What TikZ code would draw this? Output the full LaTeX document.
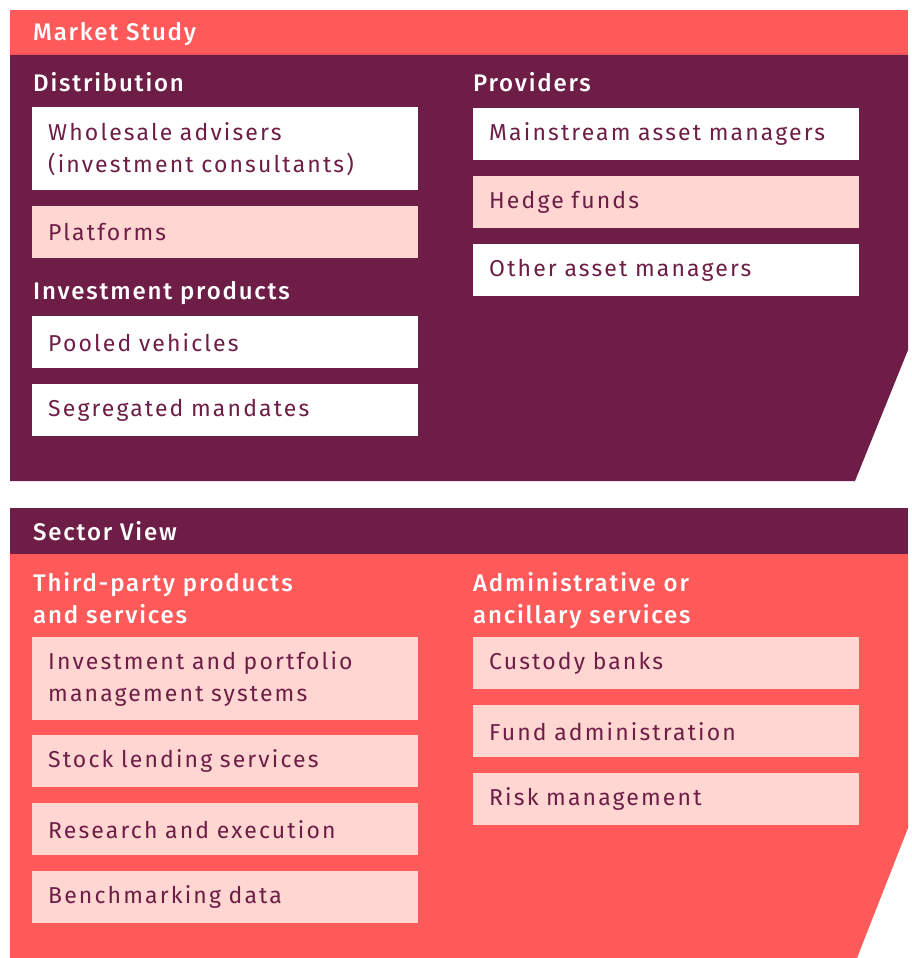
\documentclass[tikz,border=0pt]{standalone}
\usepackage{fontspec}
\setmainfont{Fira Sans}[LetterSpace=9.3]
\newfontfamily\headfont{Fira Sans Medium}[LetterSpace=7.5]
\definecolor{coral}{HTML}{FF5A5A}
\definecolor{plum}{HTML}{6E1E46}
\definecolor{blush}{HTML}{FFD6D2}
\tikzset{
  itembox/.style={anchor=north west, minimum width=386pt, text width=354pt, inner xsep=16pt, inner ysep=0pt, align=left, text=plum, font=\fontsize{23}{32}\selectfont},
  whitebox/.style={itembox, fill=white},
  pinkbox/.style={itembox, fill=blush},
  heading/.style={anchor=base west, inner sep=0pt, text=white, font=\headfont\fontsize{24}{32}\selectfont, align=left},
}
\begin{document}
\begin{tikzpicture}[x=1pt,y=-1pt]
\useasboundingbox (0,0) rectangle (911,958);
% top panel
\fill[coral] (10,10) rectangle (908,55);
\fill[plum] (10,55) -- (908,55) -- (908,350) -- (855,481) -- (10,481) -- cycle;
% bottom panel
\fill[plum] (10,508) rectangle (908,554);
\fill[coral] (10,554) -- (908,554) -- (908,828) -- (857,958) -- (10,958) -- cycle;

\node[heading] (ms) at (33,41) {Market Study};
\node[heading] (dist) at (33,92) {Distribution};
\node[heading] (prov) at (473,92) {Providers};
\node[heading] (ip) at (33,299) {Investment products};

\node[whitebox, minimum height=83pt] (wa) at (32,107) {Wholesale advisers\\(investment consultants)};
\node[pinkbox, minimum height=52pt] (pl) at (32,206) {Platforms};
\node[whitebox, minimum height=52pt] (pv) at (32,316) {Pooled vehicles};
\node[whitebox, minimum height=52pt] (sm) at (32,384) {Segregated mandates};

\node[whitebox, minimum height=52pt] (mam) at (473,108) {Mainstream asset managers};
\node[pinkbox, minimum height=52pt] (hf) at (473,176) {Hedge funds};
\node[whitebox, minimum height=52pt] (oam) at (473,244) {Other asset managers};

\node[heading] (sv) at (33,540) {Sector View};
\node[heading] (tp) at (33,623) {Third-party products\\and services};
\node[heading] (adm) at (473,623) {Administrative or\\ancillary services};

\node[pinkbox, minimum height=83pt] (ipm) at (32,637) {Investment and portfolio\\management systems};
\node[pinkbox, minimum height=52pt] (sl) at (32,735) {Stock lending services};
\node[pinkbox, minimum height=52pt] (re) at (32,803) {Research and execution};
\node[pinkbox, minimum height=52pt] (bd) at (32,871) {Benchmarking data};

\node[pinkbox, minimum height=52pt] (cb) at (473,637) {Custody banks};
\node[pinkbox, minimum height=52pt] (fa) at (473,705) {Fund administration};
\node[pinkbox, minimum height=52pt] (rm) at (473,773) {Risk management};
\end{tikzpicture}
\end{document}
